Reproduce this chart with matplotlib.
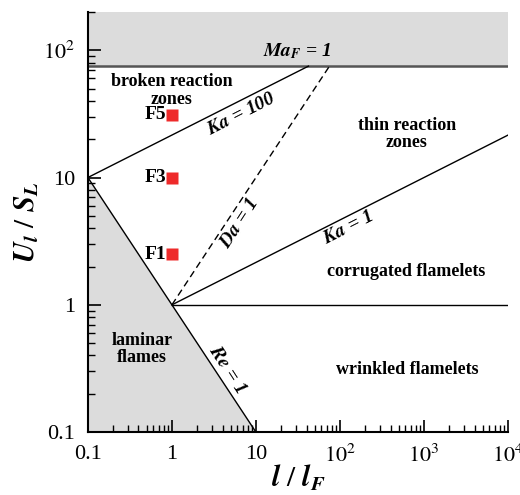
import matplotlib
matplotlib.use("Agg")
import matplotlib.pyplot as plt
import numpy as np

plt.rcParams['font.family'] = ['Liberation Serif', 'DejaVu Serif']
plt.rcParams['mathtext.fontset'] = 'stix'

# flame cases (l/lF, U'/SL)
case_names = ['F1', 'F3', 'F5']
case_l = [1.0, 1.0, 1.0]
case_u = [2.5, 10.0, 31.0]

# regime boundaries
ma_limit = 75.0
ka_outer = 100.0
x_ticks = [0.1, 1, 10, 100, 1000, 10000]
x_ticklabels = ['0.1', '1', '10', r'$10^2$', r'$10^3$', r'$10^4$']
y_ticks = [0.1, 1, 10, 100]
y_ticklabels = ['0.1', '1', '10', r'$10^2$']

fig = plt.figure(figsize=(5.2, 4.95), dpi=100)
ax = fig.add_axes([0.169, 0.127, 0.808, 0.849])
ax.set_xscale('log')
ax.set_yscale('log')
ax.set_xlim(0.1, 1e4)
ax.set_ylim(0.1, 200)

gray = '#dcdcdc'

# Re = 1 : U/S = (l/lF)^-1, laminar region below it
xr = np.logspace(-1, 1, 50)
ax.fill_between(xr, 0.1, 1.0 / xr, color=gray, lw=0)
ax.plot(xr, 1.0 / xr, 'k-', lw=1)

# above Ma_F = 1
ax.fill_between([0.1, 1e4], ma_limit, 200, color=gray, lw=0)
ax.axhline(ma_limit, color='#555555', lw=1.8)

# Ka = 100 : U/S = Ka^(2/3) (l/lF)^(1/3)
x_end = (ma_limit / ka_outer ** (2 / 3)) ** 3
xk = np.logspace(-1, np.log10(x_end), 50)
ax.plot(xk, ka_outer ** (2 / 3) * xk ** (1 / 3), 'k-', lw=1)

# Ka = 1
xk1 = np.logspace(0, 4, 50)
ax.plot(xk1, xk1 ** (1 / 3), 'k-', lw=1)

# Da = 1 : U/S = l/lF
ax.plot([1, ma_limit], [1, ma_limit], 'k--', lw=1, dashes=(5, 3))

# U/S = 1
ax.plot([1, 1e4], [1, 1], 'k-', lw=1)

ax.plot(case_l, case_u, 's', color='#ee2a2a', ms=8, mec='none')
for n, xv, yv in zip(case_names, case_l, case_u):
    ax.text(xv * 0.86, yv, n, ha='right', va='center', fontsize=14, fontweight='bold')

bold = dict(fontsize=13, fontweight='bold', ha='center', va='center', linespacing=1.05)
ax.text(1.0, 48, 'broken reaction\nzones', **bold)
ax.text(627, 22, 'thin reaction\nzones', **bold)
ax.text(611, 1.84, 'corrugated flamelets', **bold)
ax.text(627, 0.31, 'wrinkled flamelets', **bold)
ax.text(0.44, 0.45, 'laminar\nflames', **bold)

lab = dict(fontsize=14, fontweight='bold', style='italic', ha='center', va='center')
ax.text(6.8, 31.6, r'$\mathbfit{Ka}$ = 100', rotation=27, **lab)
ax.text(6.45, 4.37, r'$\mathbfit{Da}$ = 1', rotation=57, **lab)
ax.text(124, 4.0, r'$\mathbfit{Ka}$ = 1', rotation=27, **lab)
ax.text(4.52, 0.31, r'$\mathbfit{Re}$ = 1', rotation=-57, **lab)
ax.text(31, 98, r'$\mathbfit{Ma_F}$ = 1', **lab)

ax.set_xticks(x_ticks)
ax.set_xticklabels(x_ticklabels)
ax.set_yticks(y_ticks)
ax.set_yticklabels(y_ticklabels)
ax.tick_params(which='both', direction='in', labelsize=16, top=False, right=False)
ax.tick_params(which='major', length=9, width=1.2, pad=9)
ax.tick_params(which='minor', length=5, width=1)
for s in ['top', 'right']:
    ax.spines[s].set_visible(False)
for s in ['left', 'bottom']:
    ax.spines[s].set_linewidth(1.5)

ax.set_xlabel(r'$\mathbfit{l}$ / $\mathbfit{l_F}$', fontsize=21, fontweight='bold', labelpad=-3)
ax.set_ylabel(r'$\mathbfit{U_l}$ / $\mathbfit{S_L}$', fontsize=21, fontweight='bold', labelpad=2)

fig.savefig('out.png', dpi=100)
